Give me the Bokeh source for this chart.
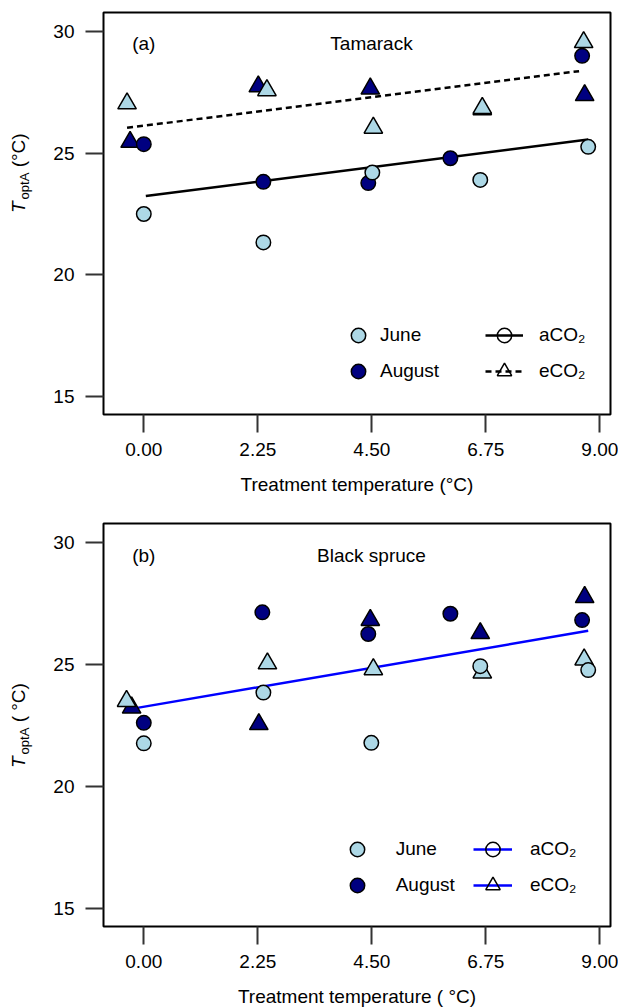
import numpy as np
from bokeh.plotting import figure
from bokeh.layouts import column, row
from bokeh.models import (Legend, LegendItem, Label, FixedTicker,
                          NumeralTickFormatter, Range1d, Div)
from bokeh.embed import file_html
from bokeh.resources import INLINE

# ---------------- data ----------------
x_ticks = [0.0, 2.25, 4.5, 6.75, 9.0]
y_ticks = [15, 20, 25, 30]

# Panel (a) Tamarack
a_june_amb_x = [0.0, 2.36, 4.51, 6.64, 8.77]
a_june_amb_y = [22.50, 21.33, 24.20, 23.90, 25.26]
a_aug_amb_x = [0.0, 2.36, 4.43, 6.05, 8.65]
a_aug_amb_y = [25.37, 23.82, 23.77, 24.79, 29.00]
a_june_elev_x = [-0.33, 2.43, 4.53, 6.68, 8.68]
a_june_elev_y = [27.04, 27.58, 26.04, 26.85, 29.56]
a_aug_elev_x = [-0.27, 2.26, 4.47, 6.68, 8.70]
a_aug_elev_y = [25.46, 27.74, 27.65, 26.80, 27.38]
a_fit_amb_x = [0.04, 8.77]
a_fit_amb_y = [23.24, 25.56]
a_fit_elev_x = [-0.33, 8.59]
a_fit_elev_y = [26.04, 28.37]

# Panel (b) Black spruce
b_june_amb_x = [0.0, 2.36, 4.49, 6.64, 8.77]
b_june_amb_y = [21.77, 23.85, 21.79, 24.93, 24.77]
b_aug_amb_x = [0.0, 2.34, 4.43, 6.05, 8.65]
b_aug_amb_y = [22.61, 27.14, 26.25, 27.08, 26.82]
b_june_elev_x = [-0.34, 2.44, 4.53, 6.68, 8.69]
b_june_elev_y = [23.50, 25.04, 24.80, 24.67, 25.20]
b_aug_elev_x = [-0.24, 2.27, 4.47, 6.64, 8.70]
b_aug_elev_y = [23.23, 22.55, 26.82, 26.28, 27.76]
b_fit_x = [-0.33, 8.77]
b_fit_y = [23.15, 26.38]

JUNE = "#ADD8E6"
AUG = "#000080"
FONT = "Liberation Sans"
FS = "19px"
LEFT_DIV = 50


def make_panel(top_border, frame_h, bottom_border, xlabel):
    p = figure(frame_width=507, frame_height=frame_h,
               x_range=Range1d(-0.795, 9.21), y_range=Range1d(14.26, 30.78),
               output_backend="svg", toolbar_location=None,
               min_border_left=102 - LEFT_DIV, min_border_right=9,
               min_border_top=top_border, min_border_bottom=bottom_border)
    p.grid.visible = False
    p.outline_line_color = "black"
    p.outline_line_width = 2
    p.outline_line_alpha = 1
    p.background_fill_color = "white"
    p.border_fill_color = "white"
    for ax in (p.xaxis[0], p.yaxis[0]):
        ax.axis_line_color = None
        ax.major_tick_out = 18
        ax.major_tick_in = 0
        ax.minor_tick_line_color = None
        ax.major_tick_line_width = 2
        ax.major_tick_line_color = "#333333"
        ax.major_label_text_font = FONT
        ax.major_label_text_font_size = FS
        ax.major_label_text_color = "black"
    p.xaxis.major_label_standoff = 10
    p.yaxis.major_label_standoff = 11
    p.xaxis.ticker = FixedTicker(ticks=x_ticks)
    p.xaxis.formatter = NumeralTickFormatter(format="0.00")
    p.yaxis.ticker = FixedTicker(ticks=y_ticks)
    p.xaxis.axis_label = xlabel
    p.xaxis.axis_label_text_font = FONT
    p.xaxis.axis_label_text_font_size = FS
    p.xaxis.axis_label_text_font_style = "normal"
    p.xaxis.axis_label_text_color = "black"
    p.xaxis.axis_label_standoff = 15
    return p


def ylabel_div(height, start_y, unit_text):
    html = (
        f'<div style="display:inline-block; margin-left:8px; margin-top:{start_y}px; '
        'transform:rotate(-90deg); transform-origin:0 0; white-space:nowrap; '
        "font-family:'Liberation Sans', Arial, sans-serif; font-size:19px; "
        'line-height:22px; color:#000;">'
        '<span style="font-style:italic;">T</span>'
        '<span style="font-size:13px; position:relative; top:4px; margin-left:2px;">optA</span>'
        f'<span>{unit_text}</span></div>'
    )
    return Div(text=html, width=LEFT_DIV, height=height, margin=0)


def panel_title(p, tag, name):
    p.add_layout(Label(x=28.7, y=371, x_units="screen", y_units="screen", text=tag,
                       text_font=FONT, text_font_size=FS, text_baseline="middle",
                       text_align="left", text_color="black"))
    p.add_layout(Label(x=268, y=371, x_units="screen", y_units="screen", text=name,
                       text_font=FONT, text_font_size=FS, text_baseline="middle",
                       text_align="center", text_color="black"))


def points(p, ax, ay, gx, gy, jax, jay, jex, jey, size_c=14.5, size_t=18.5):
    p.scatter(gx, gy, marker="triangle", size=size_t, fill_color=AUG,
              line_color="black", line_width=1.5)
    r_aug_c = p.scatter(ax, ay, marker="circle", size=size_c, fill_color=AUG,
                        line_color="black", line_width=1.5)
    p.scatter(jex, jey, marker="triangle", size=size_t, fill_color=JUNE,
              line_color="black", line_width=1.5)
    r_jun_c = p.scatter(jax, jay, marker="circle", size=size_c, fill_color=JUNE,
                        line_color="black", line_width=1.5)
    return r_jun_c, r_aug_c


def add_legends(p, r_jun, r_aug, amb_rs, elev_rs, loc1, loc2, gw2, st1, st2):
    common = dict(padding=0, margin=0, border_line_color=None, background_fill_alpha=0,
                  label_text_font=FONT, label_text_font_size=FS, label_text_color="black",
                  label_text_baseline="middle", glyph_height=36, label_height=36, spacing=0)
    leg1 = Legend(items=[LegendItem(label="June", renderers=[r_jun]),
                         LegendItem(label="August", renderers=[r_aug])],
                  location=loc1, glyph_width=36, label_standoff=st1, **common)
    leg2 = Legend(items=[LegendItem(label="aCO₂", renderers=amb_rs),
                         LegendItem(label="eCO₂", renderers=elev_rs)],
                  location=loc2, glyph_width=gw2, label_standoff=st2, **common)
    p.add_layout(leg1)
    p.add_layout(leg2)


def legend_marker(p, marker):
    return p.scatter([np.nan], [np.nan], marker=marker, fill_color=None,
                     line_color="black", line_width=1.5)


# ---------------- panel (a) ----------------
p1 = make_panel(12, 402, 84, "Treatment temperature (°C)")
la = p1.line(a_fit_amb_x, a_fit_amb_y, line_color="black", line_width=2.5)
le = p1.line(a_fit_elev_x, a_fit_elev_y, line_color="black", line_width=2.5, line_dash="6 4")
rj, ra = points(p1, a_aug_amb_x, a_aug_amb_y, a_aug_elev_x, a_aug_elev_y,
                a_june_amb_x, a_june_amb_y, a_june_elev_x, a_june_elev_y)
dc1 = legend_marker(p1, "circle")
dt1 = legend_marker(p1, "triangle")
add_legends(p1, rj, ra, [la, dc1], [le, dt1], (237, 25), (382, 25), 38, 4, 16)
panel_title(p1, "(a)", "Tamarack")

# ---------------- panel (b) ----------------
p2 = make_panel(25, 403, 81, "Treatment temperature ( °C)")
lb = p2.line(b_fit_x, b_fit_y, line_color="#0000FF", line_width=2.5)
rj2, ra2 = points(p2, b_aug_amb_x, b_aug_amb_y, b_aug_elev_x, b_aug_elev_y,
                  b_june_amb_x, b_june_amb_y, b_june_elev_x, b_june_elev_y)
dc2 = legend_marker(p2, "circle")
dt2 = legend_marker(p2, "triangle")
add_legends(p2, rj2, ra2, [lb, dc2], [lb, dt2], (235.7, 23.5), (370, 23.5), 39, 21, 18)
panel_title(p2, "(b)", "Black spruce")

d1 = ylabel_div(498, 213, " (°C)")
d2 = ylabel_div(509, 270, " ( °C)")

layout = column(row(d1, p1, spacing=0), row(d2, p2, spacing=0), spacing=0)
open("out.html", "w").write(file_html(layout, INLINE))
